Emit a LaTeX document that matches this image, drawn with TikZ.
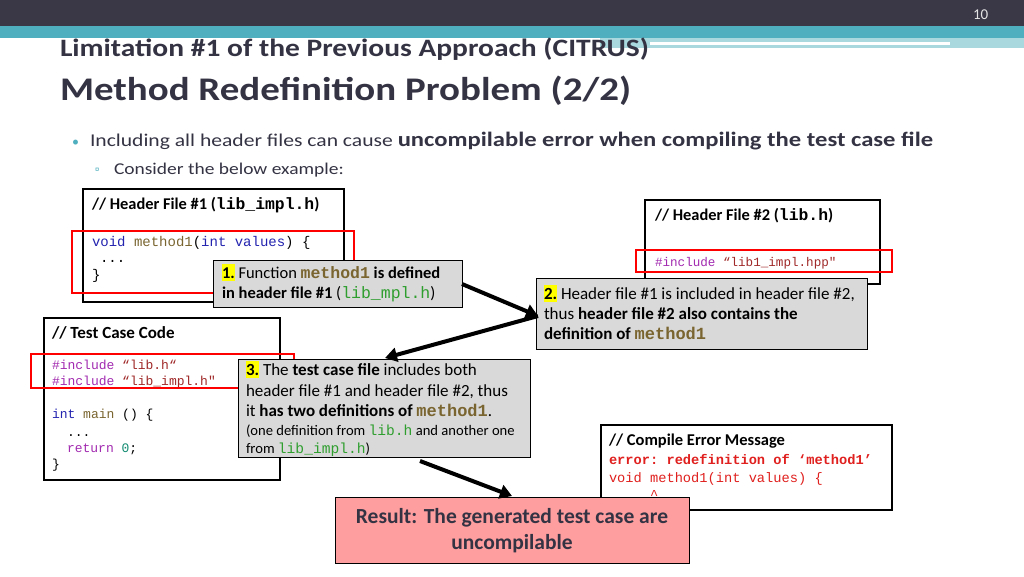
\documentclass[tikz,border=0pt]{standalone}
\usepackage{fontspec}
\setmainfont{Carlito}
\setmonofont{Liberation Mono}
\newfontfamily\wide[FakeStretch=1.18]{Carlito}
\newfontfamily\widem[FakeStretch=1.2]{Carlito}
\usetikzlibrary{arrows.meta}
\definecolor{topbar}{HTML}{3A3747}
\definecolor{teal}{HTML}{4FAFBE}
\definecolor{tealL}{HTML}{A9D8DE}
\definecolor{titlec}{HTML}{343344}
\definecolor{kw}{HTML}{2323B0}
\definecolor{fn}{HTML}{7A6530}
\definecolor{inc}{HTML}{A22AB0}
\definecolor{str}{HTML}{A02828}
\definecolor{grn}{HTML}{2E9E2E}
\definecolor{num}{HTML}{108A70}
\definecolor{notefill}{HTML}{D9D9D9}
\definecolor{resfill}{HTML}{FF9E9E}
\definecolor{errc}{HTML}{E0201E}
\definecolor{hl}{HTML}{FFFF00}
\tikzset{
 txt/.style={anchor=base west,inner sep=0pt,outer sep=0pt},
 code/.style={txt,font=\fontsize{14}{16}\selectfont\ttfamily},
 tcode/.style={txt,font=\fontsize{13}{15}\selectfont\ttfamily},
 codebox/.style={draw=black,line width=2pt},
 redbox/.style={draw=red,line width=2pt},
 note/.style={draw=black,line width=1pt,fill=notefill},
 arr/.style={line width=4pt,-{Triangle[length=12pt,width=14pt]}},
}
\newcommand{\hlnum}[1]{\colorbox{hl}{\kern-3pt\textbf{#1}\kern-3pt}}
\begin{document}
\begin{tikzpicture}[x=1pt,y=-1pt]
\useasboundingbox (0,0) rectangle (1024,576);
\fill[white] (0,0) rectangle (1024,576);
\fill[topbar] (0,0) rectangle (1024,26);
\fill[teal] (0,26) rectangle (1024,38);
\fill[tealL] (600,38) rectangle (1024,48);
\fill[white] (650,42) rectangle (950,45);
\fill[white] (840,48) rectangle (1000,52);
\node[txt,text=white!80!gray,font=\fontsize{15}{16}\selectfont] (pg) at (973,19) {10};
\node[txt,text=titlec,font=\wide\fontsize{25}{26}\selectfont\bfseries] (t1) at (60,56) {Limitation \#1 of the Previous Approach (CITRUS)};
\node[txt,text=titlec,font=\wide\fontsize{33}{36}\selectfont\bfseries] (t2) at (60,100) {Method Redefinition Problem (2/2)};
\node[txt,text=teal,font=\fontsize{14}{16}\selectfont] (b1) at (72,146) {•};
\node[txt,text=titlec,font=\widem\fontsize{18}{20}\selectfont] (l1) at (90,146) {Including all header files can cause \fontsize{20.5}{22}\selectfont\bfseries uncompilable error when compiling the test case file};
\node[txt,text=teal,font=\fontsize{12}{14}\selectfont] (b2) at (95,173) {▫};
\node[txt,text=titlec,font=\wide\fontsize{16.5}{18}\selectfont] (l2) at (114,174) {Consider the below example:};

% Header file 1
\draw[codebox] (83,189) rectangle (344,302);
\node[txt,font=\fontsize{16.4}{18}\selectfont\bfseries] (h1t) at (92,209) {// Header File \#1 ({\ttfamily lib\_impl.h})};
\node[code] (h1a) at (92,246) {\textcolor{kw}{void} \textcolor{fn}{method1}(\textcolor{kw}{int} \textcolor{kw}{values}) \{};
\node[code] (h1b) at (100,262) {...};
\node[code] (h1c) at (92,279) {\}};
\draw[redbox] (72,231) rectangle (354,293);

% Header file 2
\draw[codebox] (645,200) rectangle (880,284);
\node[txt,font=\fontsize{16.4}{18}\selectfont\bfseries] (h2t) at (655,220) {// Header File \#2 ({\ttfamily lib.h})};
\draw[redbox] (636,250) rectangle (892,272);
\node[code,font=\fontsize{12.6}{14}\selectfont\ttfamily] (h2a) at (655,266) {\textcolor{inc}{\#include} \textcolor{str}{“lib1\_impl.hpp"}};

% Test case
\draw[codebox] (44,318) rectangle (280,480);
\node[txt,font=\fontsize{17}{18}\selectfont\bfseries] (tct) at (52,338) {// Test Case Code};
\node[tcode] (tc1) at (52,369) {\textcolor{inc}{\#include} \textcolor{str}{“lib.h“}};
\node[tcode] (tc2) at (52,385) {\textcolor{inc}{\#include} \textcolor{str}{“lib\_impl.h"}};
\node[tcode] (tc3) at (52,418) {\textcolor{kw}{int} \textcolor{fn}{main} () \{};
\node[tcode] (tc4) at (67,436) {...};
\node[tcode] (tc5) at (67,452) {\textcolor{inc}{return} \textcolor{num}{0};};
\node[tcode] (tc6) at (52,468) {\}};
\draw[redbox] (31,354) rectangle (294,388);

% Compile error
\draw[codebox] (601,425) rectangle (892,510);
\node[txt,font=\fontsize{16.5}{17}\selectfont\bfseries] (cet) at (609,445) {// Compile Error Message};
\node[code,font=\fontsize{13.7}{15}\selectfont\ttfamily,text=errc] (ce1) at (609,464) {\bfseries error: redefinition of ‘method1’};
\node[code,font=\fontsize{13.7}{15}\selectfont\ttfamily,text=errc] (ce2) at (609,482) {void method1(int values) \{};
\node[code,font=\fontsize{13.7}{15}\selectfont\ttfamily,text=errc] (ce3) at (650,499) {\^{}};

% Notes
\draw[note] (213,260) rectangle (462,307);
\node[txt,font=\fontsize{16.5}{18}\selectfont] (n1a) at (222,278) {\hlnum{1.} Function {\ttfamily\bfseries\textcolor{fn}{method1}} \textbf{is defined}};
\node[txt,font=\fontsize{16.5}{18}\selectfont] (n1b) at (222,298) {\textbf{in header file \#1} ({\ttfamily\textcolor{grn}{lib\_mpl.h}})};

\draw[note] (536,278) rectangle (867,349);
\node[txt,font=\fontsize{17}{18}\selectfont] (n2a) at (544,299) {\hlnum{2.} Header file \#1 is included in header file \#2,};
\node[txt,font=\fontsize{17}{18}\selectfont] (n2b) at (544,319) {thus \textbf{header file \#2 also contains the}};
\node[txt,font=\fontsize{17}{18}\selectfont] (n2c) at (544,339) {\textbf{definition of} {\ttfamily\bfseries\textcolor{fn}{method1}}};

\draw[note] (238,359) rectangle (530,457);
\node[txt,font=\fontsize{17}{18}\selectfont] (n3a) at (246,375) {\hlnum{3.} The \textbf{test case file} includes both};
\node[txt,font=\fontsize{17}{18}\selectfont] (n3b) at (246,396) {header file \#1 and header file \#2, thus};
\node[txt,font=\fontsize{17}{18}\selectfont] (n3c) at (246,416) {it \textbf{has two definitions of} {\ttfamily\bfseries\textcolor{fn}{method1}}.};
\node[txt,font=\fontsize{14.6}{15}\selectfont] (n3d) at (246,435) {(one definition from {\ttfamily\textcolor{grn}{lib.h}} and another one};
\node[txt,font=\fontsize{14.6}{15}\selectfont] (n3e) at (246,453) {from {\ttfamily\textcolor{grn}{lib\_impl.h}})};

% Result
\draw[line width=1pt,fill=resfill] (335,497) rectangle (689,563);
\node[align=center,font=\fontsize{21.5}{26}\selectfont\bfseries,text=titlec] (res) at (512,531) {Result: The generated test case are\\uncompilable};

% arrows
\coordinate (a1s) at (462,284);
\coordinate (a1e) at (538,316);
\coordinate (a2e) at (385,358);
\coordinate (a3s) at (420,461);
\coordinate (a3e) at (512,496);
\draw[arr] (a1s) -- (a1e);
\draw[arr] (a1e) -- (a2e);
\draw[arr] (a3s) -- (a3e);
\end{tikzpicture}
\end{document}
